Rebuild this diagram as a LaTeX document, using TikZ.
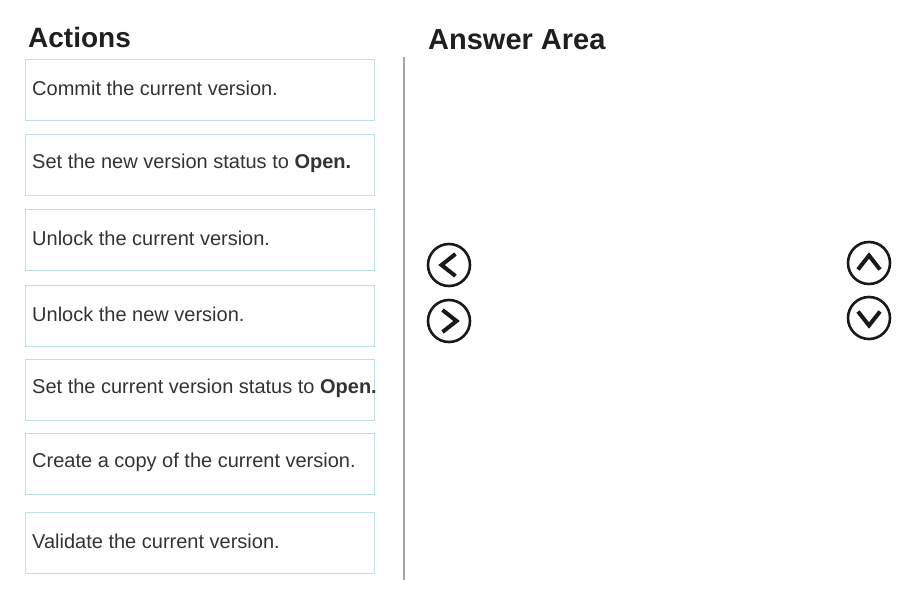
\documentclass[tikz,border=0pt]{standalone}
\usepackage{fontspec}
\setmainfont{Liberation Sans}
\definecolor{boxline}{RGB}{192,224,228}
\definecolor{acttxt}{RGB}{51,51,51}
\definecolor{sepline}{RGB}{165,165,165}

\begin{document}
\begin{tikzpicture}[x=1pt,y=-1pt,
  actbox/.style={draw=boxline,line width=0.9pt,minimum width=349pt,minimum height=61pt,anchor=north west,inner sep=0pt},
  acttext/.style={anchor=west,inner sep=0pt,text=acttxt,font=\fontsize{20}{24}\selectfont},
  head/.style={anchor=west,inner sep=0pt,text=black!88,font=\fontsize{28}{32}\selectfont\bfseries},
  btn/.style={draw=black!90,line width=2.6pt,circle,minimum size=42pt,inner sep=0pt},
  chev/.style={draw=black!90,line width=4pt,line join=miter}]
\useasboundingbox (0,0) rectangle (907,602);
\node[head] (actions) at (28,37) {Actions};
\node[head,font=\fontsize{29}{33}\selectfont\bfseries] (answer) at (428,40) {Answer Area};
\foreach \y/\t [count=\i] in {59/{Commit the current version.},
    134/{Set the new version status to \textbf{Open.}},
    209/{Unlock the current version.},
    285/{Unlock the new version.},
    359/{Set the current version status to \textbf{Open.}},
    433/{Create a copy of the current version.},
    512/{Validate the current version.}}{
  \node[actbox] (box\i) at (25,\y) {};
  \node[acttext] (act\i) at ([xshift=7pt,yshift=1.5pt]box\i.west) {\t};
}
\coordinate (septop) at (404,57);
\coordinate (sepbot) at (404,580);
\draw[sepline,line width=1.2pt] (septop) -- (sepbot);
\foreach \n/\x/\y in {left/449/265, right/449/321, up/869/263, down/869/318}
  \node[btn] (\n) at (\x,\y) {};
\draw[chev] ([shift={(6.5,-11)}]left.center) -- ([shift={(-7.5,0)}]left.center) -- ([shift={(6.5,11)}]left.center);
\draw[chev] ([shift={(-6.5,-11)}]right.center) -- ([shift={(7.5,0)}]right.center) -- ([shift={(-6.5,11)}]right.center);
\draw[chev] ([shift={(-11,6.5)}]up.center) -- ([shift={(0,-7.5)}]up.center) -- ([shift={(11,6.5)}]up.center);
\draw[chev] ([shift={(-11,-6.5)}]down.center) -- ([shift={(0,7.5)}]down.center) -- ([shift={(11,-6.5)}]down.center);
\end{tikzpicture}
\end{document}
